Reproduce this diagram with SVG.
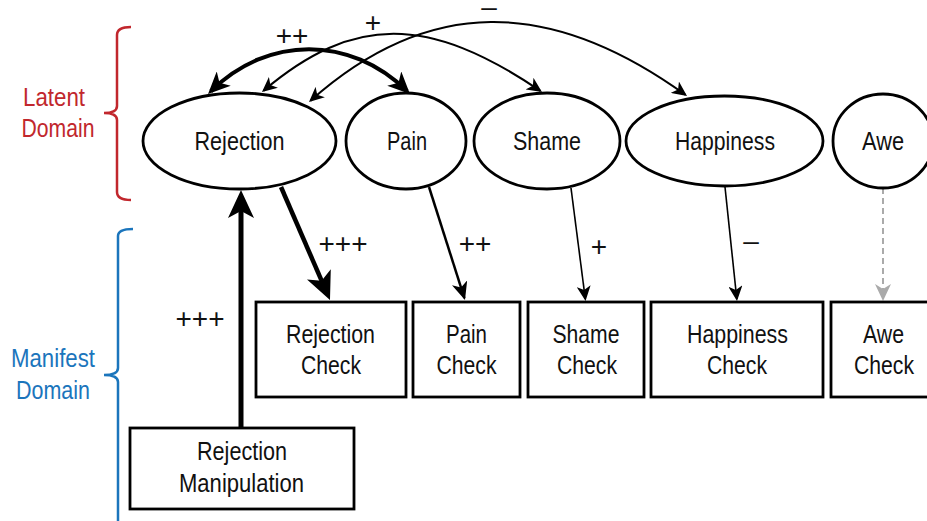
<svg xmlns="http://www.w3.org/2000/svg" width="927" height="521" viewBox="0 0 927 521">
<style>
text{font-family:"Liberation Sans Narrow","Liberation Sans",Arial,sans-serif;font-size:26px;fill:#111;text-anchor:middle}
.sign{font-family:"Liberation Sans",Arial,sans-serif;font-size:28px}
.node ellipse,.node rect{fill:#fff;stroke:#000;stroke-width:2.8}
.con path{fill:none;stroke:#000}
.red{fill:#c1272d}
.blue{fill:#1b75bc}
</style>
<defs>
<marker id="hXL" viewBox="-28 -13 28 26" markerWidth="28" markerHeight="26" refX="-8" refY="0" orient="auto-start-reverse" markerUnits="userSpaceOnUse"><path d="M0,0 L-28,-13 L-21,0 L-28,13 Z" fill="#000"/></marker>
<marker id="hL" viewBox="-22 -10 22 20" markerWidth="22" markerHeight="20" refX="-4" refY="0" orient="auto-start-reverse" markerUnits="userSpaceOnUse"><path d="M0,0 L-22,-10 L-16,0 L-22,10 Z" fill="#000"/></marker>
<marker id="hM" viewBox="-18 -8 18 16" markerWidth="18" markerHeight="16" refX="-2" refY="0" orient="auto-start-reverse" markerUnits="userSpaceOnUse"><path d="M0,0 L-18,-8 L-13,0 L-18,8 Z" fill="#000"/></marker>
<marker id="hS" viewBox="-15 -7 15 14" markerWidth="15" markerHeight="14" refX="-2" refY="0" orient="auto-start-reverse" markerUnits="userSpaceOnUse"><path d="M0,0 L-15,-7 L-11,0 L-15,7 Z" fill="#000"/></marker>
<marker id="hG" viewBox="-17 -8 17 16" markerWidth="17" markerHeight="16" refX="-2" refY="0" orient="auto" markerUnits="userSpaceOnUse"><path d="M0,0 L-17,-8 L-12,0 L-17,8 Z" fill="#aaa"/></marker>
</defs>

<g id="latent-bracket">
<path d="M131,27 Q117,27 117,35 L117,106 Q117,113 104,113 Q117,113 117,120 L117,192 Q117,200 131,200" fill="none" stroke="#c1272d" stroke-width="2.5"/>
<text class="red" x="54" y="106" textLength="62" lengthAdjust="spacingAndGlyphs">Latent</text>
<text class="red" x="58" y="137" textLength="73" lengthAdjust="spacingAndGlyphs">Domain</text>
</g>
<g id="manifest-bracket">
<path d="M133,229 Q118,229 118,236 L118,368 Q118,375 104,375 Q118,375 118,382 L118,525" fill="none" stroke="#1b75bc" stroke-width="2.5"/>
<text class="blue" x="53" y="367" textLength="84" lengthAdjust="spacingAndGlyphs">Manifest</text>
<text class="blue" x="53" y="399" textLength="74" lengthAdjust="spacingAndGlyphs">Domain</text>
</g>

<g id="connectors" class="con">
<path d="M241,428 L241,198" stroke-width="5" marker-end="url(#hXL)"/>
<path d="M281,187 L326.8,292.7" stroke-width="4.5" marker-end="url(#hXL)"/>
<path d="M429,187 L464.4,298.1" stroke-width="2.5" marker-end="url(#hM)"/>
<path d="M571,188 L585.3,299" stroke-width="1.6" marker-end="url(#hS)"/>
<path d="M725,187 L736.8,299" stroke-width="1.6" marker-end="url(#hS)"/>
<path d="M883,188 L883,299" stroke-width="2" stroke-dasharray="6,4" style="stroke:#aaa" marker-end="url(#hG)"/>
<path d="M210.9,91.2 C267.9,35.2 350.1,35.2 407.1,91.2" stroke-width="4" marker-start="url(#hL)" marker-end="url(#hL)"/>
<path d="M263.5,90.7 C353.5,14.7 428.3,14.9 540.3,90.9" stroke-width="2" marker-start="url(#hS)" marker-end="url(#hS)"/>
<path d="M310.5,100.7 C427.5,-3.3 549.4,-3.2 685.4,94.8" stroke-width="2" marker-start="url(#hS)" marker-end="url(#hS)"/>
</g>

<g id="labels">
<text class="sign" x="292" y="45">++</text>
<text class="sign" x="373" y="32">+</text>
<text class="sign" x="489" y="16">–</text>
<text class="sign" x="343" y="253">+++</text>
<text class="sign" x="200" y="328">+++</text>
<text class="sign" x="475" y="253">++</text>
<text class="sign" x="599" y="256">+</text>
<text class="sign" x="751" y="250">–</text>
</g>

<g id="rejection" class="node"><ellipse cx="239.5" cy="141" rx="96.5" ry="48"/><text x="239.5" y="150" textLength="90" lengthAdjust="spacingAndGlyphs">Rejection</text></g>
<g id="pain" class="node"><ellipse cx="406" cy="141" rx="60" ry="48"/><text x="407" y="150" textLength="40" lengthAdjust="spacingAndGlyphs">Pain</text></g>
<g id="shame" class="node"><ellipse cx="547" cy="141" rx="73" ry="48"/><text x="547" y="150" textLength="68" lengthAdjust="spacingAndGlyphs">Shame</text></g>
<g id="happiness" class="node"><ellipse cx="724.5" cy="141" rx="98.5" ry="45"/><text x="725" y="150" textLength="100" lengthAdjust="spacingAndGlyphs">Happiness</text></g>
<g id="awe" class="node"><ellipse cx="883" cy="141" rx="50" ry="47"/><text x="883" y="150" textLength="42" lengthAdjust="spacingAndGlyphs">Awe</text></g>

<g id="rejection-check" class="node"><rect x="256" y="302" width="150" height="95"/><text x="330.5" y="342.5" textLength="89" lengthAdjust="spacingAndGlyphs">Rejection</text><text x="331" y="373.5" textLength="60" lengthAdjust="spacingAndGlyphs">Check</text></g>
<g id="pain-check" class="node"><rect x="413" y="302" width="107" height="95"/><text x="466.5" y="342.5" textLength="41" lengthAdjust="spacingAndGlyphs">Pain</text><text x="466.5" y="373.5" textLength="60" lengthAdjust="spacingAndGlyphs">Check</text></g>
<g id="shame-check" class="node"><rect x="528" y="302" width="116" height="95"/><text x="586" y="342.5" textLength="67" lengthAdjust="spacingAndGlyphs">Shame</text><text x="587" y="373.5" textLength="60" lengthAdjust="spacingAndGlyphs">Check</text></g>
<g id="happiness-check" class="node"><rect x="651" y="302" width="172" height="95"/><text x="737.5" y="342.5" textLength="101" lengthAdjust="spacingAndGlyphs">Happiness</text><text x="737" y="373.5" textLength="60" lengthAdjust="spacingAndGlyphs">Check</text></g>
<g id="awe-check" class="node"><rect x="831" y="302" width="104" height="95"/><text x="883.5" y="342.5" textLength="41" lengthAdjust="spacingAndGlyphs">Awe</text><text x="884" y="373.5" textLength="60" lengthAdjust="spacingAndGlyphs">Check</text></g>
<g id="rejection-manipulation" class="node"><rect x="130" y="428" width="224" height="81"/><text x="242" y="460" textLength="90" lengthAdjust="spacingAndGlyphs">Rejection</text><text x="241.5" y="492" textLength="125" lengthAdjust="spacingAndGlyphs">Manipulation</text></g>
</svg>
